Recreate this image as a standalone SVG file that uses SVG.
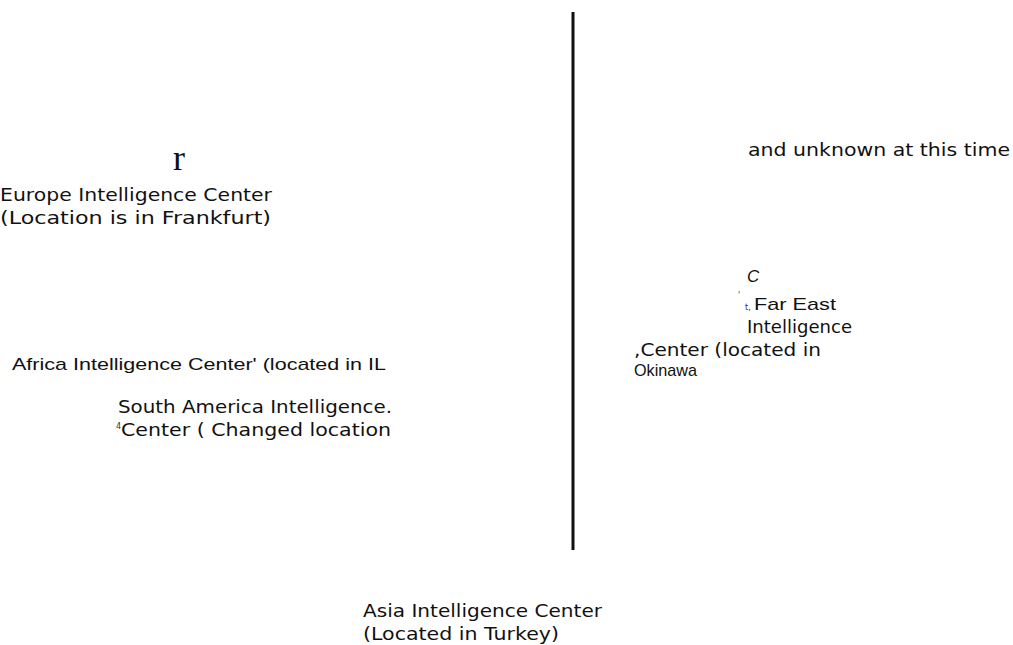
<svg xmlns="http://www.w3.org/2000/svg" width="1013" height="645" viewBox="0 0 1013 645">
<style>
.t{font-family:"DejaVu Sans","Verdana",sans-serif;font-size:17px;fill:#111}
.n{font-family:"Liberation Sans",Arial,sans-serif;font-size:17px;fill:#111}
.s{font-family:"Liberation Serif","Times New Roman",serif;font-size:36px;fill:#111}
.tiny{font-family:"DejaVu Sans",sans-serif;font-size:8px;fill:#333}
</style>
<rect width="1013" height="645" fill="#fff"/>
<g id="connectors">
<line x1="573" y1="12" x2="573" y2="550" stroke="#111" stroke-width="3"/>
</g>
<g id="europe">
<text class="s" x="173" y="170">r</text>
<text class="t" x="0" y="201" textLength="272" lengthAdjust="spacingAndGlyphs">Europe Intelligence Center</text>
<text class="t" x="0" y="224" textLength="271" lengthAdjust="spacingAndGlyphs">(Location is in Frankfurt)</text>
</g>
<g id="unknown">
<text class="t" x="748" y="156" textLength="262" lengthAdjust="spacingAndGlyphs">and unknown at this time</text>
</g>
<g id="fareast">
<text class="n" x="747" y="282" font-size="21" font-style="italic">C</text>
<text class="tiny" x="738" y="298">'</text>
<text class="tiny" x="745" y="310">t,</text>
<text class="n" x="754" y="310" font-size="18" textLength="82" lengthAdjust="spacingAndGlyphs">Far East</text>
<text class="t" x="747" y="333" textLength="105" lengthAdjust="spacingAndGlyphs">Intelligence</text>
<text class="t" x="634" y="356" textLength="187" lengthAdjust="spacingAndGlyphs">,Center (located in</text>
<text class="n" x="634" y="376" font-size="16" textLength="63" lengthAdjust="spacingAndGlyphs">Okinawa</text>
</g>
<g id="africa">
<text class="n" x="12" y="370" textLength="374" lengthAdjust="spacingAndGlyphs">Africa Intelligence Center' (located in IL</text>
</g>
<g id="southamerica">
<text class="t" x="118" y="413" textLength="274" lengthAdjust="spacingAndGlyphs">South America Intelligence.</text>
<text class="tiny" x="116" y="429" font-size="7">4</text>
<text class="t" x="121" y="436" textLength="270" lengthAdjust="spacingAndGlyphs">Center ( Changed location</text>
</g>
<g id="asia">
<text class="t" x="363" y="617" textLength="239" lengthAdjust="spacingAndGlyphs">Asia Intelligence Center</text>
<text class="t" x="363" y="640" textLength="196" lengthAdjust="spacingAndGlyphs">(Located in Turkey)</text>
</g>
</svg>
